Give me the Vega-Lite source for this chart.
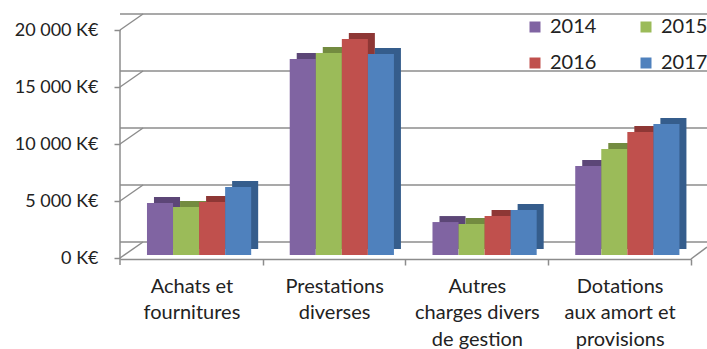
{
  "$schema": "https://vega.github.io/schema/vega-lite/v6.json",
  "width": 571,
  "height": 244,
  "autosize": {"type": "none"},
  "padding": {"left": 120, "top": 14, "right": 16, "bottom": 91},
  "background": "white",
  "config": {"view": {"stroke": null}, "font": "Lato"},
  "datasets": {
    "grid": [{"v": 0}, {"v": 5000}, {"v": 10000}, {"v": 15000}, {"v": 20000}],
    "costs": [
      {"cat": "Achats et|fournitures", "year": "2014", "value": 4560},
      {"cat": "Achats et|fournitures", "year": "2015", "value": 4210},
      {"cat": "Achats et|fournitures", "year": "2016", "value": 4650},
      {"cat": "Achats et|fournitures", "year": "2017", "value": 5970},
      {"cat": "Prestations|diverses", "year": "2014", "value": 17190},
      {"cat": "Prestations|diverses", "year": "2015", "value": 17720},
      {"cat": "Prestations|diverses", "year": "2016", "value": 18950},
      {"cat": "Prestations|diverses", "year": "2017", "value": 17630},
      {"cat": "Autres|charges divers|de gestion", "year": "2014", "value": 2890},
      {"cat": "Autres|charges divers|de gestion", "year": "2015", "value": 2720},
      {"cat": "Autres|charges divers|de gestion", "year": "2016", "value": 3420},
      {"cat": "Autres|charges divers|de gestion", "year": "2017", "value": 3950},
      {"cat": "Dotations|aux amort et|provisions", "year": "2014", "value": 7810},
      {"cat": "Dotations|aux amort et|provisions", "year": "2015", "value": 9300},
      {"cat": "Dotations|aux amort et|provisions", "year": "2016", "value": 10790},
      {"cat": "Dotations|aux amort et|provisions", "year": "2017", "value": 11490}
    ]
  },
  "resolve": {"scale": {"color": "independent", "xOffset": "independent"}},
  "layer": [
    {
      "data": {"name": "grid"},
      "mark": {"type": "rule", "color": "#8c8c8c", "strokeWidth": 1.5, "xOffset": 23, "x2Offset": 40, "yOffset": -16},
      "encoding": {
        "y": {"field": "v", "type": "quantitative", "title": null, "scale": {"domain": [0, 21404], "nice": false, "zero": true}}
      }
    },
    {
      "data": {"name": "grid"},
      "mark": {"type": "rule", "color": "#8c8c8c", "strokeWidth": 1.5, "x2Offset": 23, "y2Offset": -16},
      "encoding": {
        "x": {"value": 0},
        "x2": {"value": 0},
        "y": {"field": "v", "type": "quantitative", "title": null},
        "y2": {"field": "v"}
      }
    },
    {
      "data": {"values": [{"v": 0}]},
      "mark": {"type": "rule", "color": "#8c8c8c", "strokeWidth": 1.5, "yOffset": 1, "x2Offset": 16, "y2Offset": -11},
      "encoding": {
        "x": {"value": "width"},
        "x2": {"value": "width"},
        "y": {"field": "v", "type": "quantitative", "title": null},
        "y2": {"field": "v"}
      }
    },
    {
      "data": {"values": [{"a": 0, "b": 20000}]},
      "mark": {"type": "rule", "color": "#8c8c8c", "strokeWidth": 1.5, "yOffset": 7},
      "encoding": {
        "x": {"value": 0},
        "y": {"field": "a", "type": "quantitative", "title": null},
        "y2": {"field": "b"}
      }
    },
    {
      "data": {"name": "costs"},
      "mark": {"type": "bar", "yOffset": -9, "y2Offset": -9},
      "encoding": {
        "x": {"field": "cat", "type": "nominal", "sort": null, "title": null, "scale": {"paddingInner": 0.27, "paddingOuter": 0.135, "align": 0.7}},
        "xOffset": {"field": "year", "type": "nominal", "scale": {"paddingInner": 0, "range": [7, 111.2]}},
        "y": {"field": "value", "type": "quantitative", "title": null},
        "color": {"field": "year", "type": "nominal", "scale": {"range": ["#5c4677", "#738b40", "#8e3735", "#355d8c"]}, "legend": null}
      }
    },
    {
      "data": {"name": "costs"},
      "mark": {"type": "bar", "yOffset": -3, "y2Offset": -3},
      "encoding": {
        "x": {
          "field": "cat", "type": "nominal", "sort": null, "title": null,
          "axis": {
            "labelExpr": "split(datum.label, '|')",
            "labelAngle": 0,
            "labelAlign": "center",
            "labelFontSize": 20,
            "labelColor": "#222",
            "labelLineHeight": 26.5,
            "labelPadding": 21,
            "tickOffset": 63.65,
            "labelOffset": -71.35,
            "tickSize": 6,
            "tickColor": "#8c8c8c",
            "tickWidth": 1.5,
            "domainColor": "#8c8c8c",
            "domainWidth": 1.5,
            "offset": 1
          }
        },
        "xOffset": {"field": "year", "type": "nominal", "scale": {"paddingInner": 0}},
        "y": {
          "field": "value", "type": "quantitative", "title": null,
          "axis": {
            "values": [0, 5000, 10000, 15000, 20000],
            "labelExpr": "datum.value == 0 ? '0 K€' : format(datum.value / 1000, 'd') + ' 000 K€'",
            "labelFontSize": 18,
            "labelColor": "#222",
            "labelPadding": 16,
            "tickSize": 6,
            "tickColor": "#8c8c8c",
            "tickWidth": 1.5,
            "domain": false,
            "grid": false
          }
        },
        "color": {
          "field": "year", "type": "nominal",
          "scale": {"range": ["#8064a2", "#9bbb59", "#c0504d", "#4f81bd"]},
          "legend": {
            "title": null,
            "orient": "none",
            "legendX": 405,
            "legendY": 3,
            "direction": "horizontal",
            "columns": 2,
            "columnPadding": 39,
            "rowPadding": 16,
            "symbolType": "square",
            "symbolSize": 121,
            "symbolStrokeWidth": 0,
            "labelFontSize": 20,
            "labelColor": "#222",
            "labelOffset": 5,
            "labelLimit": 300
          }
        }
      }
    }
  ]
}
